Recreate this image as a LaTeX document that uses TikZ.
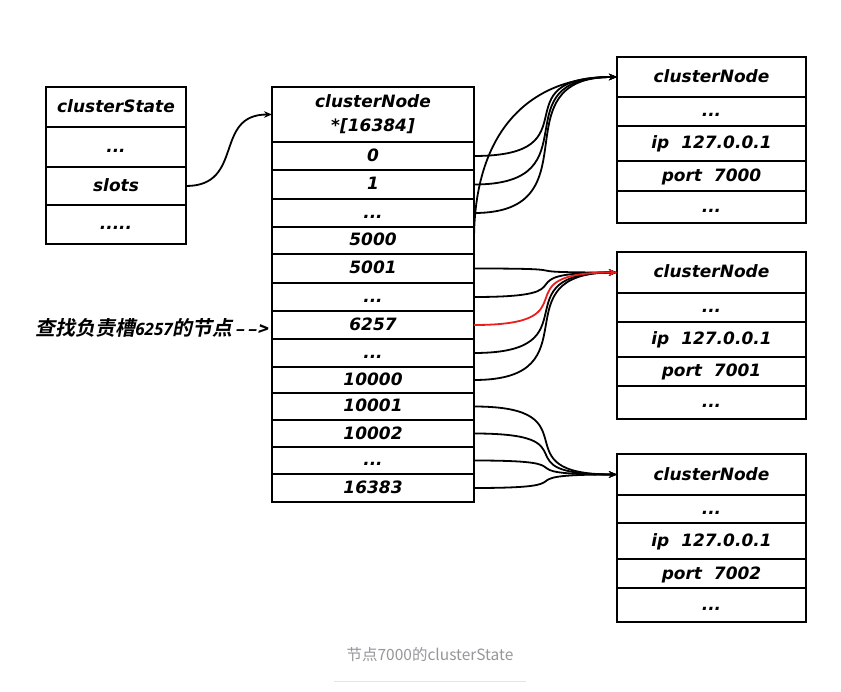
\documentclass[tikz,border=0pt]{standalone}
\usepackage{fontspec}
\setmainfont{DejaVu Sans}
\newfontfamily\osans{Open Sans}
\newfontfamily\cjkbi{Noto Sans CJK SC Bold}[FakeSlant=0.2]
\newfontfamily\cjk{Noto Sans CJK SC}
\usetikzlibrary{arrows.meta}
\definecolor{capgray}{RGB}{150,150,155}
\definecolor{hotred}{RGB}{235,30,30}
\newcommand\rc[6]{\node[cell,minimum width=#4pt,minimum height=#5pt] (#1) at (#2,#3) {#6};}
\begin{document}
\begin{tikzpicture}[x=1pt,y=-1pt,
  cellbase/.style={draw, line width=2pt, inner sep=0pt, outer sep=0pt, anchor=north west,
    font=\fontsize{17}{24}\selectfont\bfseries\itshape, align=center},
  cell/.style={cellbase, text height=14pt, text depth=3pt},
  conn/.style={line width=1.8pt, -{Stealth[length=8pt,width=6.5pt]}},
]
\useasboundingbox (0,0) rectangle (841,692);
% clusterState
\rc{cs0}{46}{87}{140}{40}{clusterState}
\rc{cs1}{46}{127}{140}{40}{...}
\rc{cs2}{46}{167}{140}{38}{slots}
\rc{cs3}{46}{205}{140}{39}{.....}
% slots array
\node[cellbase,minimum width=202pt,minimum height=55pt] (th) at (272,87) {clusterNode\\*[16384]};
\rc{r0}{272}{142}{202}{28}{0}
\rc{r1}{272}{170}{202}{29}{1}
\rc{r2}{272}{199}{202}{28}{...}
\rc{r3}{272}{227}{202}{27}{5000}
\rc{r4}{272}{254}{202}{29}{5001}
\rc{r5}{272}{283}{202}{28}{...}
\rc{r6}{272}{311}{202}{28}{6257}
\rc{r7}{272}{339}{202}{28}{...}
\rc{r8}{272}{367}{202}{26}{10000}
\rc{r9}{272}{393}{202}{27}{10001}
\rc{r10}{272}{420}{202}{27}{10002}
\rc{r11}{272}{447}{202}{27}{...}
\rc{r12}{272}{474}{202}{28}{16383}
% node 7000
\rc{a0}{617}{57}{189}{40}{clusterNode}
\rc{a1}{617}{97}{189}{29}{...}
\rc{a2}{617}{126}{189}{35}{ip\ \ 127.0.0.1}
\rc{a3}{617}{161}{189}{30}{port\ \ 7000}
\rc{a4}{617}{191}{189}{32}{...}
% node 7001
\rc{b0}{617}{252}{189}{41}{clusterNode}
\rc{b1}{617}{293}{189}{29}{...}
\rc{b2}{617}{322}{189}{35}{ip\ \ 127.0.0.1}
\rc{b3}{617}{357}{189}{29}{port\ \ 7001}
\rc{b4}{617}{386}{189}{33}{...}
% node 7002
\rc{c0}{617}{454}{189}{41}{clusterNode}
\rc{c1}{617}{495}{189}{28}{...}
\rc{c2}{617}{523}{189}{36}{ip\ \ 127.0.0.1}
\rc{c3}{617}{559}{189}{29}{port\ \ 7002}
\rc{c4}{617}{588}{189}{34}{...}
% connectors
\draw[conn] (cs2.east) .. controls +(59,0) and +(-59,0) .. (th.west);
\foreach \r in {r0,r1,r2}
  \draw[conn] (\r.east) .. controls +(123,0) and +(-121,0) .. (a0.west);
\draw[conn] (r3.east) .. controls +(0,-110) and +(-87,0) .. (a0.west);
\foreach \r in {r4,r5,r7,r8}
  \draw[conn] (\r.east) .. controls +(123,0) and +(-121,0) .. (b0.west);
\draw[conn, hotred] (r6.east) .. controls +(123,0) and +(-121,0) .. (b0.west);
\foreach \r in {r9,r10,r11,r12}
  \draw[conn] (\r.east) .. controls +(123,0) and +(-121,0) .. (c0.west);
% lookup label
\node[anchor=east, inner sep=0pt] (q) at (268,328)
  {\cjkbi\fontsize{20}{20}\selectfont 查找负责槽{\osans\bfseries\itshape\fontsize{17}{17}\selectfont 6257}的节点\hspace{2pt}{\bfseries\fontsize{17}{17}\selectfont –\hspace{3pt}–\hspace{1pt}>}};
% caption
\node[font=\cjk\fontsize{15.5}{17}\selectfont, text=capgray] (cap) at (430,655) {节点7000的clusterState};
\draw[line width=1pt, black!10] (334,681) -- (526,681);
\end{tikzpicture}
\end{document}
